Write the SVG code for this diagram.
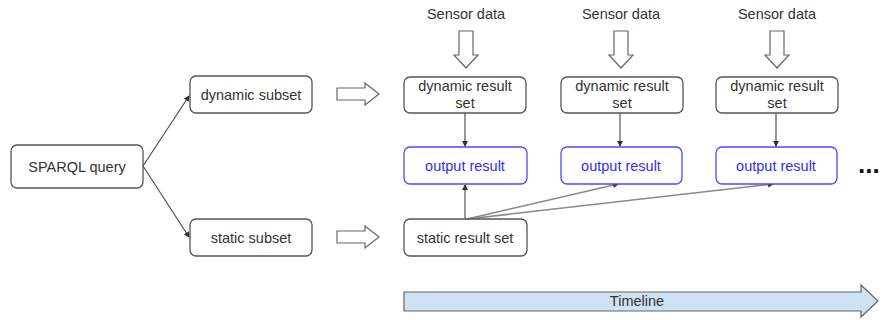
<svg xmlns="http://www.w3.org/2000/svg" width="883" height="320" viewBox="0 0 883 320">
<defs>
<style>
.box{fill:#fff;stroke:#555;stroke-width:1.3}
.bbox{fill:#fff;stroke:#4a4aff;stroke-width:1.3}
.t{font-family:"Liberation Sans",Arial,sans-serif;font-size:14.5px;fill:#333;text-anchor:middle}
.tb{font-family:"Liberation Sans",Arial,sans-serif;font-size:14.5px;fill:#3030ee;text-anchor:middle}
.hol{fill:#fff;stroke:#666;stroke-width:1.2}
.ln{stroke:#444;stroke-width:1.1;fill:none}
.gl{stroke:#888;stroke-width:1.6;fill:none}
</style>
<marker id="ah" viewBox="0 0 6 6" refX="5" refY="3" markerWidth="6" markerHeight="6" markerUnits="userSpaceOnUse" orient="auto">
<path d="M0,0 L6,3 L0,6 z" fill="#333"/>
</marker>
</defs>

<g id="connectors">
<line class="ln" x1="143" y1="166" x2="189" y2="96" marker-end="url(#ah)"/>
<line class="ln" x1="143" y1="166" x2="189" y2="237" marker-end="url(#ah)"/>
<line class="ln" x1="465" y1="113" x2="465" y2="146" marker-end="url(#ah)"/>
<line class="ln" x1="620" y1="113" x2="620" y2="146" marker-end="url(#ah)"/>
<line class="ln" x1="776" y1="113" x2="776" y2="146" marker-end="url(#ah)"/>
<line class="ln" x1="465" y1="219" x2="465" y2="185" marker-end="url(#ah)"/>
<line class="gl" x1="467" y1="219" x2="618" y2="184" marker-end="url(#ah)"/>
<line class="gl" x1="467" y1="219" x2="773" y2="184" marker-end="url(#ah)"/>
<path class="hol" d="M337,88 H365 V83 L379,94 L365,105 V100 H337 Z"/>
<path class="hol" d="M337,231 H365 V226 L379,237 L365,248 V243 H337 Z"/>
<path class="hol" d="M459,31 H473 V55 H478 L466,68 L454,55 H459 Z"/>
<path class="hol" d="M614,31 H628 V55 H633 L621,68 L609,55 H614 Z"/>
<path class="hol" d="M770,31 H784 V55 H789 L777,68 L765,55 H770 Z"/>
</g>

<g id="sparql"><rect class="box" x="11" y="145" width="132" height="43" rx="6"/><text class="t" x="77" y="172">SPARQL query</text></g>
<g id="dynamic-subset"><rect class="box" x="190" y="76" width="122" height="37" rx="6"/><text class="t" x="251" y="100">dynamic subset</text></g>
<g id="static-subset"><rect class="box" x="190" y="219" width="122" height="37" rx="6"/><text class="t" x="251" y="243">static subset</text></g>

<g id="sensor1"><text class="t" x="466" y="19">Sensor data</text></g>
<g id="sensor2"><text class="t" x="621" y="19">Sensor data</text></g>
<g id="sensor3"><text class="t" x="777" y="19">Sensor data</text></g>

<g id="drs1"><rect class="box" x="404" y="77" width="122" height="36" rx="6"/><text class="t" x="465" y="91">dynamic result</text><text class="t" x="465" y="108">set</text></g>
<g id="drs2"><rect class="box" x="561" y="77" width="122" height="36" rx="6"/><text class="t" x="622" y="91">dynamic result</text><text class="t" x="622" y="108">set</text></g>
<g id="drs3"><rect class="box" x="716" y="77" width="122" height="36" rx="6"/><text class="t" x="777" y="91">dynamic result</text><text class="t" x="777" y="108">set</text></g>

<g id="out1"><rect class="bbox" x="404" y="147" width="123" height="37" rx="6"/><text class="tb" x="465" y="171">output result</text></g>
<g id="out2"><rect class="bbox" x="561" y="147" width="121" height="37" rx="6"/><text class="tb" x="621" y="171">output result</text></g>
<g id="out3"><rect class="bbox" x="716" y="147" width="121" height="37" rx="6"/><text class="tb" x="776" y="171">output result</text></g>

<g id="static-result"><rect class="box" x="404" y="219" width="123" height="37" rx="6"/><text class="t" x="465" y="243">static result set</text></g>

<g id="ellipsis"><text x="858" y="173" font-family="Liberation Sans,Arial,sans-serif" font-size="26" font-weight="bold" fill="#111">...</text></g>

<g id="timeline"><path d="M404,292 H861 V285 L878,301 L861,317 V311 H404 Z" fill="#cfe2f3" stroke="#666" stroke-width="1.2"/><text class="t" x="637" y="306">Timeline</text></g>
</svg>
